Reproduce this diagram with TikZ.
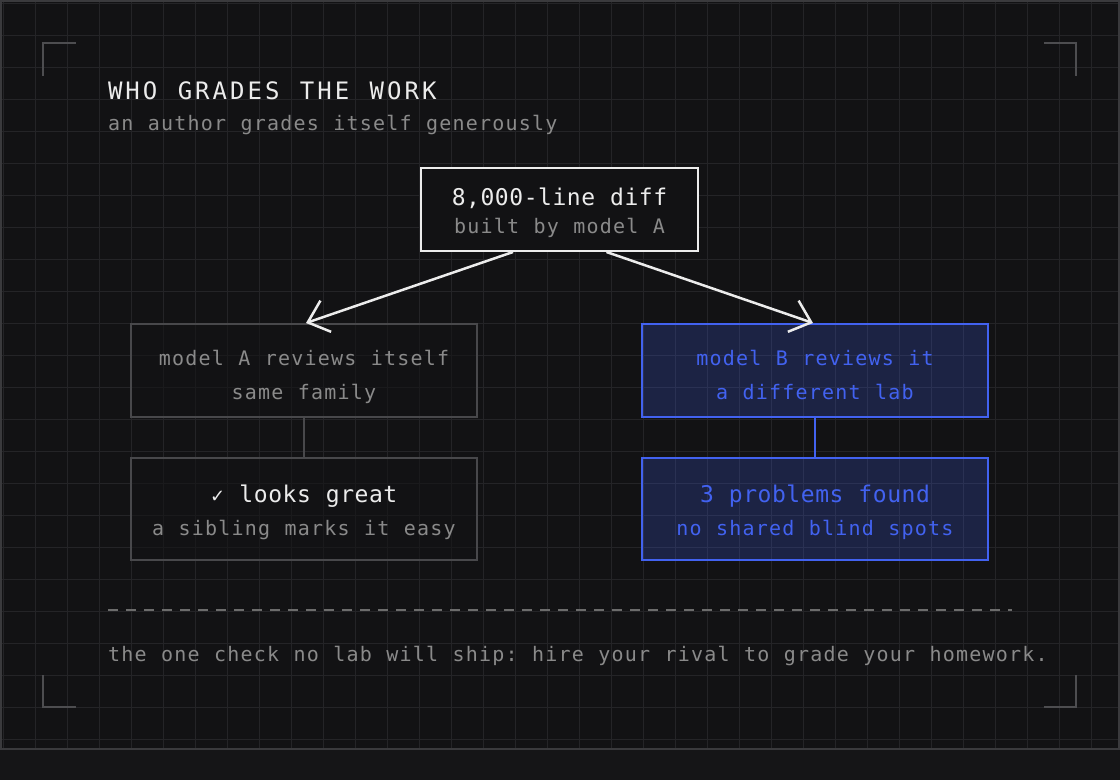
\documentclass[tikz,border=0pt]{standalone}
\usepackage{fontspec}
\usetikzlibrary{arrows.meta}
\newfontfamily\monof{DejaVu Sans Mono}
\newfontfamily\symf{DejaVu Sans}
\ExplSyntaxOn
\cs_new:Npn \mytrack #1 #2 { \str_map_inline:nn {#2} { \makebox[#1][c]{##1} } }
\ExplSyntaxOff
\newcommand\ftitle{\monof\fontsize{24}{28}\selectfont}
\newcommand\fmain{\monof\fontsize{23}{27}\selectfont}
\newcommand\fsub{\monof\fontsize{20}{24}\selectfont}
\definecolor{stripbg}{HTML}{151517}
\definecolor{panelbg}{HTML}{121214}
\definecolor{gridcol}{HTML}{242427}
\definecolor{framecol}{HTML}{3A3A3D}
\definecolor{cornercol}{HTML}{4D4D50}
\definecolor{whitecol}{HTML}{ECECEC}
\definecolor{graytext}{HTML}{8A8A8A}
\definecolor{grayline}{HTML}{48484B}
\definecolor{dashcol}{HTML}{6C6C6C}
\definecolor{blueacc}{HTML}{4262F0}
\begin{document}
\begin{tikzpicture}[x=1pt,y=-1pt,
  gridline/.style={draw=gridcol, line width=1pt},
  framebox/.style={draw=framecol, line width=2pt},
  corner/.style={draw=cornercol, line width=2pt},
  txt/.style={inner sep=0pt, outer sep=0pt},
  whitebox/.style={draw=whitecol, line width=2pt, fill=panelbg, minimum width=277pt, minimum height=83pt},
  graybox/.style={draw=grayline, line width=2pt, fill=panelbg, fill opacity=0.55, minimum width=346pt},
  bluebox/.style={draw=blueacc, line width=2pt, fill=blueacc, fill opacity=0.22, minimum width=346pt},
  arrowline/.style={draw=whitecol, line width=2.5pt, -{Straight Barb[length=19pt, width=33pt]}},
  graylink/.style={draw=grayline, line width=2pt},
  bluelink/.style={draw=blueacc, line width=2.5pt},
  dashline/.style={draw=dashcol, line width=2pt, dash pattern=on 10pt off 8pt}
]
\useasboundingbox (0,0) rectangle (1120,780);
\fill[stripbg] (0,0) rectangle (1120,780);
\fill[panelbg] (0,0) rectangle (1120,750);
\foreach \x in {3,35,...,1115} \draw[gridline] (\x,2) -- (\x,748);
\foreach \y in {3,35,...,739} \draw[gridline] (2,\y) -- (1118,\y);
\draw[framebox] (1,1) rectangle (1119,749);
% corner brackets
\draw[corner] (43,76) -- (43,43) -- (76,43);
\draw[corner] (1044,43) -- (1076,43) -- (1076,76);
\draw[corner] (43,675) -- (43,707) -- (76,707);
\draw[corner] (1044,707) -- (1076,707) -- (1076,675);
% heading
\node[txt, anchor=base west, text=whitecol] (title) at (106.5,99) {\ftitle\mytrack{17.45pt}{WHO GRADES THE WORK}};
\node[txt, anchor=base west, text=graytext] (subtitle) at (107.5,130) {\fsub\mytrack{13.25pt}{an author grades itself generously}};
% boxes
\node[whitebox] (top) at (559.5,209.5) {};
\node[graybox, minimum height=93pt] (la) at (304,370.5) {};
\node[graybox, minimum height=102pt] (lb) at (304,509) {};
\node[bluebox, minimum height=93pt] (ra) at (815,370.5) {};
\node[bluebox, minimum height=102pt] (rb) at (815,509) {};
% box texts
\node[txt, anchor=base, text=whitecol] (topl1) at (559.5,205) {\fmain\mytrack{14.4pt}{8,000-line diff}};
\node[txt, anchor=base, text=graytext] (topl2) at (559.5,233) {\fsub\mytrack{13.25pt}{built by model A}};
\node[txt, anchor=base, text=graytext] (lal1) at (304,365.5) {\fsub\mytrack{13.25pt}{model A reviews itself}};
\node[txt, anchor=base, text=graytext] (lal2) at (304,399) {\fsub\mytrack{13.25pt}{same family}};
\node[txt, anchor=base, text=whitecol] (lbl1) at (304,502) {\fmain\makebox[14.4pt][c]{\symf\fontsize{18}{22}\selectfont ✓}\mytrack{14.4pt}{ looks great}};
\node[txt, anchor=base, text=graytext] (lbl2) at (304,535.5) {\fsub\mytrack{13.25pt}{a sibling marks it easy}};
\node[txt, anchor=base, text=blueacc] (ral1) at (815,365.5) {\fsub\mytrack{13.25pt}{model B reviews it}};
\node[txt, anchor=base, text=blueacc] (ral2) at (815,399) {\fsub\mytrack{13.25pt}{a different lab}};
\node[txt, anchor=base, text=blueacc] (rbl1) at (815,502.5) {\fmain\mytrack{14.4pt}{3 problems found}};
\node[txt, anchor=base, text=blueacc] (rbl2) at (815,535.5) {\fsub\mytrack{13.25pt}{no shared blind spots}};
% connectors
\draw[arrowline] ([xshift=-46.5pt]top.south) -- ([xshift=2pt]la.north);
\draw[arrowline] ([xshift=47pt]top.south) -- ([xshift=-2pt]ra.north);
\draw[graylink] (la.south) -- (lb.north);
\draw[bluelink] (ra.south) -- (rb.north);
% footer
\coordinate (dashA) at (108,610);
\coordinate (dashB) at (1012,610);
\draw[dashline] (dashA) -- (dashB);
\node[txt, anchor=base west, text=graytext] (footer) at (107.5,661) {\fsub\mytrack{13.25pt}{the one check no lab will ship: hire your rival to grade your homework.}};
\end{tikzpicture}
\end{document}
